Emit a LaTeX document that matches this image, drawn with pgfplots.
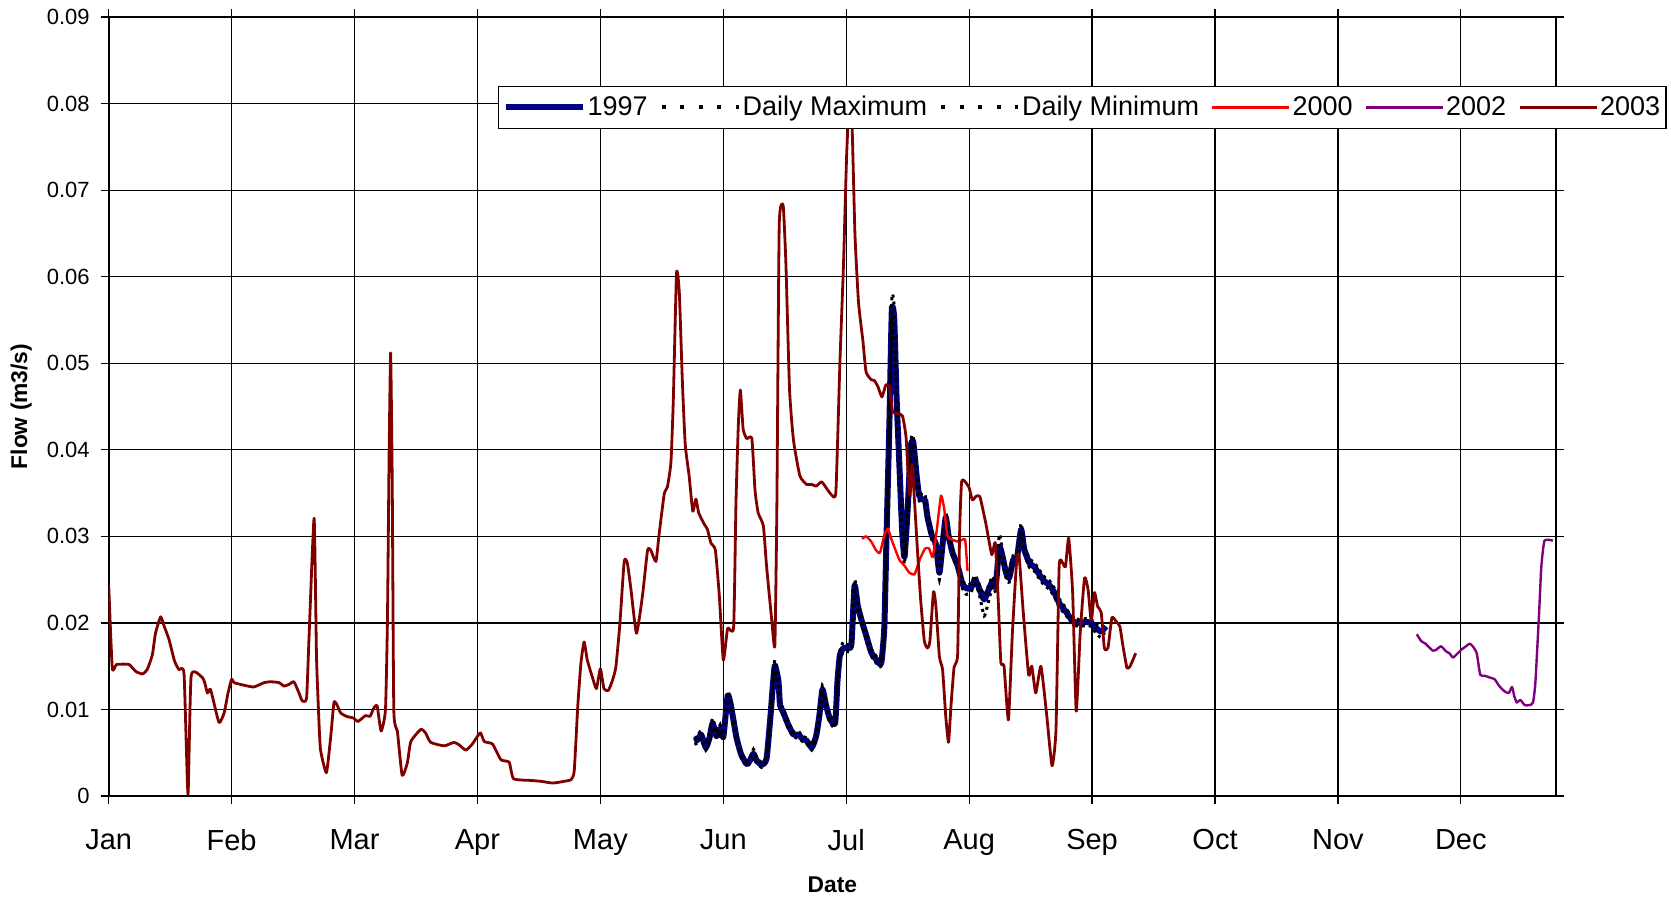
\documentclass[border=0pt]{standalone}
\usepackage{pgfplots}
\pgfplotsset{compat=1.18}
\usepackage{pgfplotstable}
\usepackage{fontspec}
\setmainfont{Liberation Sans}
\usetikzlibrary{calc}

\definecolor{navy97}{RGB}{0,0,128}
\definecolor{red00}{RGB}{255,0,0}
\definecolor{purp02}{RGB}{128,0,128}
\definecolor{dred03}{RGB}{128,0,0}

\pgfplotstableread{
day v max min
147.7 0.0063 0.0066 0.0060
148.5 0.0065 0.0070 0.0061
149.4 0.0071 0.0075 0.0067
150.6 0.0056 0.0059 0.0053
151.5 0.0067 0.0071 0.0063
152.3 0.0084 0.0090 0.0080
153.3 0.0069 0.0072 0.0066
154.2 0.0078 0.0082 0.0074
155.0 0.0068 0.0071 0.0065
156.1 0.0116 0.0120 0.0111
156.9 0.0105 0.0109 0.0101
158.3 0.0068 0.0071 0.0065
159.5 0.0048 0.0051 0.0045
160.9 0.0037 0.0040 0.0034
161.7 0.0041 0.0044 0.0038
162.6 0.0049 0.0054 0.0045
163.4 0.0041 0.0044 0.0038
164.7 0.0036 0.0039 0.0033
165.9 0.0043 0.0046 0.0040
166.8 0.0087 0.0091 0.0083
167.5 0.0128 0.0133 0.0123
168.0 0.0151 0.0157 0.0146
168.9 0.0133 0.0137 0.0128
169.3 0.0105 0.0109 0.0101
170.1 0.0097 0.0101 0.0093
171.4 0.0082 0.0086 0.0078
172.7 0.0071 0.0074 0.0068
173.9 0.0071 0.0075 0.0067
175.0 0.0066 0.0069 0.0063
176.0 0.0064 0.0067 0.0061
177.3 0.0056 0.0059 0.0053
178.4 0.0069 0.0073 0.0065
179.2 0.0092 0.0096 0.0088
180.0 0.0123 0.0128 0.0118
180.9 0.0105 0.0109 0.0101
181.9 0.0089 0.0093 0.0085
183.2 0.0084 0.0087 0.0080
183.8 0.0133 0.0140 0.0128
184.4 0.0163 0.0168 0.0158
185.3 0.0171 0.0178 0.0166
186.3 0.0171 0.0175 0.0167
187.3 0.0175 0.0180 0.0170
188.1 0.0243 0.0250 0.0237
188.9 0.0220 0.0225 0.0215
189.8 0.0204 0.0208 0.0200
191.0 0.0186 0.0190 0.0182
192.3 0.0166 0.0170 0.0162
193.5 0.0158 0.0162 0.0154
194.8 0.0153 0.0156 0.0150
195.6 0.0194 0.0199 0.0189
196.2 0.0307 0.0312 0.0300
196.9 0.0434 0.0440 0.0428
197.5 0.0562 0.0576 0.0550
198.1 0.0552 0.0565 0.0540
198.7 0.0460 0.0468 0.0452
199.4 0.0383 0.0390 0.0376
200.1 0.0307 0.0313 0.0300
200.7 0.0276 0.0282 0.0268
201.5 0.0332 0.0338 0.0326
202.3 0.0404 0.0410 0.0398
202.9 0.0409 0.0416 0.0402
203.8 0.0368 0.0374 0.0362
204.4 0.0347 0.0353 0.0341
205.3 0.0342 0.0347 0.0337
205.9 0.0342 0.0348 0.0336
206.5 0.0322 0.0327 0.0317
207.6 0.0301 0.0306 0.0296
208.6 0.0291 0.0295 0.0286
209.5 0.0258 0.0263 0.0250
210.3 0.0291 0.0296 0.0286
211.1 0.0322 0.0328 0.0316
211.8 0.0301 0.0306 0.0296
212.8 0.0281 0.0285 0.0277
214.1 0.0266 0.0270 0.0262
215.3 0.0245 0.0249 0.0240
216.3 0.0240 0.0244 0.0233
217.4 0.0240 0.0245 0.0235
218.5 0.0250 0.0255 0.0245
219.5 0.0240 0.0245 0.0234
220.8 0.0227 0.0232 0.0208
221.9 0.0238 0.0243 0.0225
222.9 0.0248 0.0254 0.0242
223.7 0.0242 0.0247 0.0237
224.6 0.0288 0.0302 0.0280
225.4 0.0277 0.0283 0.0271
226.3 0.0258 0.0263 0.0252
227.1 0.0252 0.0257 0.0247
228.1 0.0273 0.0278 0.0268
229.0 0.0273 0.0278 0.0268
230.1 0.0308 0.0315 0.0301
230.9 0.0285 0.0290 0.0280
232.2 0.0269 0.0274 0.0264
233.4 0.0265 0.0270 0.0260
234.7 0.0256 0.0261 0.0251
236.0 0.0248 0.0253 0.0243
237.2 0.0244 0.0249 0.0239
238.5 0.0235 0.0240 0.0230
239.7 0.0223 0.0228 0.0218
241.4 0.0213 0.0217 0.0209
243.1 0.0202 0.0206 0.0198
244.8 0.0200 0.0204 0.0196
246.5 0.0201 0.0205 0.0197
247.8 0.0200 0.0204 0.0196
249.0 0.0194 0.0198 0.0188
250.3 0.0190 0.0195 0.0183
251.5 0.0196 0.0200 0.0192
}\tabnineseven

\pgfplotstableread{
day v
190.0 0.0297
191.0 0.0300
192.3 0.0294
193.5 0.0284
194.5 0.0281
195.6 0.0301
196.5 0.0309
197.3 0.0298
198.1 0.0288
199.4 0.0273
200.7 0.0266
201.9 0.0258
203.2 0.0256
204.0 0.0266
204.8 0.0276
205.9 0.0286
206.9 0.0286
207.8 0.0276
208.8 0.0306
209.9 0.0347
210.7 0.0332
211.5 0.0301
212.8 0.0296
214.1 0.0294
215.3 0.0296
216.0 0.0296
216.6 0.0260
}\tabtwothousand

\pgfplotstableread{
day v
329.9 0.0187
331.0 0.0179
332.1 0.0176
333.9 0.0168
334.8 0.0169
336.0 0.0173
337.3 0.0167
338.1 0.0165
339.0 0.0160
339.8 0.0163
341.1 0.0169
342.3 0.0173
343.2 0.0176
344.0 0.0173
345.0 0.0165
345.9 0.0140
347.0 0.0139
348.2 0.0137
349.5 0.0135
350.7 0.0127
352.0 0.0121
353.1 0.0119
353.9 0.0126
354.5 0.0115
355.1 0.0108
356.0 0.0111
357.1 0.0105
358.3 0.0105
359.2 0.0108
359.8 0.0131
360.7 0.0208
361.3 0.0265
362.1 0.0295
364.2 0.0295
}\tabtwothousandtwo

\pgfplotstableread{
day v
0.0 0.0244
0.9 0.0148
2.0 0.0152
5.1 0.0152
6.8 0.0144
8.5 0.0141
9.7 0.0146
11.0 0.0163
11.8 0.0188
13.1 0.0207
14.0 0.0196
15.2 0.0181
16.6 0.0156
17.7 0.0146
19.0 0.0141
20.0 0.0002
20.8 0.0139
23.6 0.0137
24.2 0.0131
24.9 0.0119
25.7 0.0123
27.8 0.0085
29.1 0.0096
30.1 0.0119
31.0 0.0135
31.6 0.0131
34.1 0.0128
36.6 0.0126
39.2 0.0131
40.8 0.0132
43.0 0.0131
44.2 0.0127
45.5 0.0129
46.7 0.0132
48.0 0.0119
48.8 0.0110
49.9 0.0113
50.5 0.0181
51.8 0.0321
52.4 0.0162
52.9 0.0100
53.4 0.0054
54.9 0.0027
56.0 0.0069
56.8 0.0108
57.5 0.0106
58.5 0.0096
60.0 0.0092
61.8 0.0090
62.8 0.0086
64.8 0.0093
65.9 0.0092
66.9 0.0102
67.7 0.0104
68.7 0.0075
69.8 0.0100
70.3 0.0204
70.7 0.0388
71.1 0.0512
71.5 0.0365
71.9 0.0100
72.8 0.0075
74.0 0.0024
75.3 0.0038
76.2 0.0063
78.7 0.0077
79.9 0.0073
81.2 0.0062
84.6 0.0058
87.1 0.0062
88.4 0.0059
90.1 0.0053
91.7 0.0060
93.7 0.0073
94.7 0.0063
96.8 0.0060
98.9 0.0042
101.0 0.0039
102.1 0.0020
106.5 0.0018
109.0 0.0017
112.0 0.0015
114.9 0.0017
116.6 0.0019
117.4 0.0029
118.3 0.0104
119.1 0.0154
119.9 0.0178
120.7 0.0157
122.0 0.0137
123.0 0.0124
124.0 0.0147
124.9 0.0124
126.0 0.0122
127.0 0.0133
127.9 0.0149
128.9 0.0198
130.0 0.0271
130.8 0.0269
131.7 0.0239
133.1 0.0188
134.6 0.0231
135.9 0.0284
136.7 0.0284
138.0 0.0271
138.8 0.0302
140.1 0.0349
140.9 0.0357
141.8 0.0386
142.4 0.0459
143.2 0.0604
143.9 0.0582
144.7 0.0476
145.4 0.0406
146.4 0.0369
147.3 0.0329
148.1 0.0343
148.8 0.0327
150.2 0.0314
151.0 0.0308
151.9 0.0292
153.0 0.0284
154.0 0.0231
155.0 0.0157
156.1 0.0194
157.6 0.0195
158.2 0.0340
158.8 0.0430
159.3 0.0469
160.0 0.0424
160.9 0.0413
162.2 0.0413
163.0 0.0353
163.8 0.0327
165.1 0.0312
165.9 0.0266
167.2 0.0204
168.0 0.0174
168.5 0.0332
169.1 0.0659
170.1 0.0682
170.8 0.0613
171.7 0.0470
172.7 0.0411
174.3 0.0370
176.0 0.0360
177.3 0.0360
178.4 0.0358
179.8 0.0363
181.1 0.0355
182.3 0.0348
183.4 0.0352
184.4 0.0500
185.3 0.0613
186.1 0.0740
186.8 0.0805
187.5 0.0770
188.2 0.0649
189.1 0.0570
190.2 0.0526
191.0 0.0490
192.3 0.0481
193.1 0.0480
194.0 0.0473
195.0 0.0461
196.0 0.0475
196.9 0.0473
197.7 0.0444
199.0 0.0442
200.2 0.0439
201.1 0.0414
201.7 0.0363
202.1 0.0347
202.6 0.0383
203.2 0.0342
204.0 0.0281
204.8 0.0225
205.7 0.0179
206.5 0.0171
207.1 0.0179
208.0 0.0236
208.6 0.0220
209.5 0.0161
210.3 0.0146
211.1 0.0092
211.8 0.0062
212.4 0.0103
213.2 0.0149
214.1 0.0164
214.6 0.0306
215.1 0.0363
216.0 0.0363
217.0 0.0356
217.8 0.0342
218.7 0.0346
219.7 0.0346
221.2 0.0315
222.7 0.0279
223.6 0.0292
224.4 0.0219
225.0 0.0154
225.8 0.0150
226.9 0.0088
227.9 0.0188
229.0 0.0273
229.6 0.0277
230.6 0.0215
232.0 0.0140
232.8 0.0150
233.8 0.0119
235.1 0.0150
236.5 0.0096
237.9 0.0035
238.9 0.0077
239.7 0.0265
240.6 0.0269
241.3 0.0265
242.1 0.0298
243.1 0.0235
244.0 0.0098
245.0 0.0188
246.1 0.0252
247.0 0.0238
247.8 0.0202
248.6 0.0235
249.4 0.0219
250.3 0.0212
251.1 0.0171
252.0 0.0171
253.0 0.0206
254.0 0.0202
255.0 0.0196
255.8 0.0173
256.8 0.0148
257.6 0.0150
259.0 0.0165
}\tabtwothousandthree

\begin{document}
\begin{tikzpicture}
\begin{axis}[name=ax,
  scale only axis, width=723.6pt, height=389.5pt,
  xmin=0, xmax=365, ymin=0, ymax=0.09,
  xtick={0,31,62,93,124,155,186,217,248,279,310,341},
  xticklabels={Jan,Feb,Mar,Apr,May,Jun,Jul,Aug,Sep,Oct,Nov,Dec},
  ytick={0,0.01,0.02,0.03,0.04,0.05,0.06,0.07,0.08,0.09},
  yticklabels={0,0.01,0.02,0.03,0.04,0.05,0.06,0.07,0.08,0.09},
  scaled y ticks=false,
  grid=major, major grid style={black, line width=0.6pt},
  axis line style={black, line width=0.8pt},
  tick align=outside, major tick length=4pt,
  tick style={black, line width=0.6pt},
  xticklabel style={font=\fontsize{14.5}{16}\selectfont, yshift=-9pt},
  yticklabel style={font=\fontsize{11}{13}\selectfont, xshift=-2pt},
  xlabel={Date}, ylabel={Flow (m3/s)},
  label style={font=\bfseries\fontsize{11.4}{13}\selectfont},
  xlabel style={at={(axis description cs:0.5,-0.1136)}, anchor=center},
  ylabel style={at={(axis description cs:-0.0604,0.5)}, anchor=center, rotate=0},
  legend columns=-1,
  legend image code/.code={\draw[#1] (0pt,0pt) -- (38.5pt,0pt);},
  legend style={at={(axis description cs:0.269,0.912)}, anchor=north west,
    draw=black, line width=0.6pt, fill=white,
    font=\fontsize{13.5}{15}\selectfont,
    inner xsep=2pt, inner ysep=4pt,
    nodes={inner sep=1pt},
    /tikz/every odd column/.append style={column sep=0pt},
    /tikz/every even column/.append style={column sep=5pt}},
]
\addplot[navy97, line width=3pt, line join=round, smooth, tension=0.3, forget plot] table[x=day,y=v] {\tabnineseven};
\addplot[black, line width=1.5pt, dash pattern=on 1.5pt off 2pt, smooth, tension=0.3, forget plot] table[x=day,y=max] {\tabnineseven};
\addplot[black, line width=1.5pt, dash pattern=on 1.5pt off 2pt, smooth, tension=0.3, forget plot] table[x=day,y=min] {\tabnineseven};
\addplot[red00, line width=1.2pt, line join=round, smooth, tension=0.3, forget plot] table[x=day,y=v] {\tabtwothousand};
\addplot[purp02, line width=1.2pt, line join=round, smooth, tension=0.3, forget plot] table[x=day,y=v] {\tabtwothousandtwo};
\addplot[dred03, line width=1.4pt, line join=round, smooth, tension=0.3, forget plot] table[x=day,y=v] {\tabtwothousandthree};
\addlegendimage{navy97, line width=3pt}
\addlegendentry{1997}
\addlegendimage{black, line width=2pt, dash pattern=on 2pt off 7.25pt}
\addlegendentry{Daily Maximum}
\addlegendimage{black, line width=2pt, dash pattern=on 2pt off 7.25pt}
\addlegendentry{Daily Minimum}
\addlegendimage{red00, line width=1.2pt}
\addlegendentry{2000}
\addlegendimage{purp02, line width=1.2pt}
\addlegendentry{2002}
\addlegendimage{dred03, line width=1.4pt}
\addlegendentry{2003}
\end{axis}
\pgfresetboundingbox
\path ($(ax.south west)+(-54.35pt,-51.5pt)$) rectangle ($(ax.north east)+(57.5pt,8.5pt)$);
\end{tikzpicture}
\end{document}
